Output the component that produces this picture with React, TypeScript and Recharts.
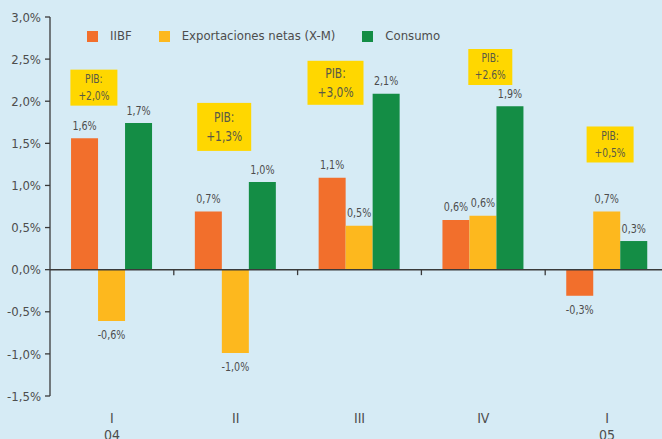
import {
  Bar,
  BarChart,
  LabelList,
  Legend,
  ReferenceDot,
  ReferenceLine,
  XAxis,
  YAxis
} from "recharts";

const quarters = ["I", "II", "III", "IV", "I"];
const years = ["04", "", "", "", "05"];
const iibf = [1.56, 0.69, 1.09, 0.59, -0.31];
const exportacionesNetas = [-0.61, -0.99, 0.52, 0.64, 0.69];
const consumo = [1.74, 1.04, 2.09, 1.94, 0.34];
const pib = ["+2,0%", "+1,3%", "+3,0%", "+2.6%", "+0,5%"];
const yTicks = [-1.5, -1, -0.5, 0, 0.5, 1, 1.5, 2, 2.5, 3];
const boundaries = [1, 2, 3, 4];

// placement of the "PIB:" call-outs (top edge in axis units, shift from the group centre)
const pibBoxes = [
  { top: 2.375, dx: -18, w: 47, h: 36, font: 12 },
  { top: 1.98, dx: -11.5, w: 54, h: 48, font: 14 },
  { top: 2.48, dx: -24, w: 56, h: 44, font: 14 },
  { top: 2.62, dx: 7, w: 44, h: 36, font: 12 },
  { top: 1.7, dx: 3, w: 47, h: 36, font: 12 }
];

const COLORS = {
  iibf: "#F26F2C",
  exportaciones: "#FDB81E",
  consumo: "#148D45",
  pib: "#FFD700",
  bg: "#D6EBF5",
  axis: "#3a3a3a",
  text: "#4d4d4d"
};

const FONT = '"Liberation Sans Narrow", "DejaVu Sans Condensed", "Liberation Sans", sans-serif';

const rows = quarters.map((q, i) => ({
  id: `${q}-${i}`,
  idx: i + 0.5,
  iibf: iibf[i],
  exportaciones: exportacionesNetas[i],
  consumo: consumo[i]
}));

const legendItems = [
  { label: "IIBF", color: COLORS.iibf },
  { label: "Exportaciones netas (X-M)", color: COLORS.exportaciones },
  { label: "Consumo", color: COLORS.consumo }
];

const fmt = (v: number) => `${v.toFixed(1).replace(".", ",")}%`;

// the original uses a condensed face; squeeze the fallback a little horizontally
function NarrowText({ x, y, size, fill, squeeze, children, central }: any) {
  return (
    <text
      transform={`translate(${x},${y}) scale(${squeeze},1)`}
      textAnchor="middle"
      dominantBaseline={central ? "central" : undefined}
      fill={fill}
      fontSize={size}
      fontFamily={FONT}
    >
      {children}
    </text>
  );
}

function ValueLabel(props: any) {
  const { x, y, width, height, value } = props;
  if (typeof value !== "number") return null;
  const top = Math.min(y, y + height);
  const bottom = Math.max(y, y + height);
  return (
    <NarrowText x={x + width / 2} y={value < 0 ? bottom + 18 : top - 8.5} size={13} squeeze={0.82} fill={COLORS.text}>
      {fmt(value)}
    </NarrowText>
  );
}

function QuarterTick(props: any) {
  const { x, y, index } = props;
  return (
    <g>
      <text x={x} y={y + 27} textAnchor="middle" fill={COLORS.text} fontSize={14} fontFamily={FONT}>
        {quarters[index]}
      </text>
      <text x={x} y={y + 44} textAnchor="middle" fill={COLORS.text} fontSize={14} fontFamily={FONT}>
        {years[index]}
      </text>
    </g>
  );
}

function PibBox({ cx, cy, box, label }: { cx: number; cy: number; box: (typeof pibBoxes)[number]; label: string }) {
  const left = cx + box.dx - box.w / 2;
  const mid = cy + box.h / 2;
  const gap = box.font * 1.38;
  return (
    <g>
      <rect x={left} y={cy} width={box.w} height={box.h} fill={COLORS.pib} />
      <NarrowText x={left + box.w / 2} y={mid - gap / 2} size={box.font} squeeze={0.85} fill="#5a5a45" central>
        PIB:
      </NarrowText>
      <NarrowText x={left + box.w / 2} y={mid + gap / 2} size={box.font} squeeze={0.85} fill="#5a5a45" central>
        {label}
      </NarrowText>
    </g>
  );
}

function LegendContent() {
  return (
    <div style={{ display: "flex", alignItems: "center", height: 16, fontFamily: FONT, fontSize: 13, lineHeight: "16px" }}>
      {legendItems.map((item) => (
        <div key={item.label} style={{ display: "flex", alignItems: "center", marginRight: 27 }}>
          <span style={{ width: 11, height: 11, background: item.color, marginRight: 12 }} />
          <span style={{ color: COLORS.text, whiteSpace: "nowrap" }}>{item.label}</span>
        </div>
      ))}
    </div>
  );
}

export default function App() {
  return (
    <div
      style={{
        position: "absolute",
        top: 0,
        left: 0,
        width: 662,
        height: 439,
        overflow: "hidden",
        background: COLORS.bg
      }}
    >
      <BarChart
        width={670}
        height={439}
        data={rows}
        margin={{ top: 17, right: 1, bottom: 0, left: 0 }}
        barCategoryGap="17%"
        barGap={0}
      >
        <XAxis
          dataKey="id"
          axisLine={false}
          tickLine={false}
          tickSize={0}
          tickMargin={0}
          height={43}
          interval={0}
          tick={<QuarterTick />}
        />
        <XAxis xAxisId="grid" dataKey="idx" type="number" domain={[0, 5]} allowDataOverflow hide />
        <YAxis
          domain={[-1.5, 3]}
          ticks={yTicks}
          interval={0}
          width={50}
          tickFormatter={fmt}
          axisLine={{ stroke: COLORS.axis, strokeWidth: 1.3 }}
          tickLine={{ stroke: COLORS.axis, strokeWidth: 1.3 }}
          tickSize={5}
          tickMargin={4}
          tick={{ fill: COLORS.text, fontSize: 13, fontFamily: FONT }}
        />
        <Legend
          verticalAlign="middle"
          align="center"
          content={<LegendContent />}
          wrapperStyle={{ top: 28, left: 87, width: 420, height: 16 }}
        />
        <Bar dataKey="iibf" fill={COLORS.iibf} isAnimationActive={false}>
          <LabelList dataKey="iibf" content={<ValueLabel />} />
        </Bar>
        <Bar dataKey="exportaciones" fill={COLORS.exportaciones} isAnimationActive={false}>
          <LabelList dataKey="exportaciones" content={<ValueLabel />} />
        </Bar>
        <Bar dataKey="consumo" fill={COLORS.consumo} isAnimationActive={false}>
          <LabelList dataKey="consumo" content={<ValueLabel />} />
        </Bar>
        <ReferenceLine y={0} stroke={COLORS.axis} strokeWidth={1.5} />
        {boundaries.map((b) => (
          <ReferenceLine
            key={b}
            xAxisId="grid"
            segment={[
              { x: b, y: 0 },
              { x: b, y: -0.065 }
            ]}
            stroke={COLORS.axis}
            strokeWidth={1.3}
          />
        ))}
        {pibBoxes.map((box, i) => (
          <ReferenceDot
            key={i}
            x={rows[i].id}
            y={box.top}
            r={1}
            ifOverflow="visible"
            shape={(p: any) => <PibBox cx={p.cx} cy={p.cy} box={box} label={pib[i]} />}
          />
        ))}
      </BarChart>
    </div>
  );
}
